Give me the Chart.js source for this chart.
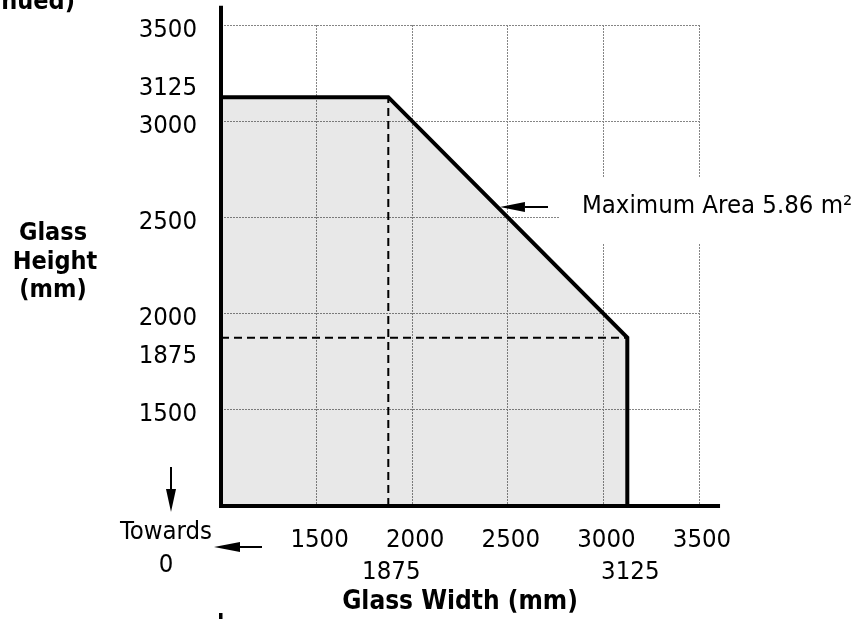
<!DOCTYPE html>
<html>
<head>
<meta charset="utf-8">
<style>
html,body{margin:0;padding:0;background:#fff;}
#wrap{width:856px;height:619px;position:relative;overflow:hidden;}
</style>
<script src="https://cdn.jsdelivr.net/npm/chart.js@4.4.1/dist/chart.umd.min.js"></script>
</head>
<body>
<div id="wrap"><canvas id="c" width="856" height="619"></canvas></div>
<script>
// ---- data ----
const boundaryWidth  = [1000, 1875, 3125, 3125];
const boundaryHeight = [3125, 3125, 1875, 1000];
const guideHWidth  = [1000, 3125];
const guideHHeight = [1875, 1875];
const guideVWidth  = [1875, 1875];
const guideVHeight = [1000, 3125];
const xTickValues = [1500, 1875, 2000, 2500, 3000, 3125, 3500];
const xSecondRowTicks = [1875, 3125];
const yTickValues = [1500, 1875, 2000, 2500, 3000, 3125, 3500];
const yUpperRowTicks = [3125];
const yLowerRowTicks = [1875];
const gridValues = [1500, 2000, 2500, 3000, 3500];
const axisMin = 1000, axisMax = 3500;
const axisEndX = 3610, axisEndY = 3600;
const areaLabel = 'Maximum Area 5.86 m\u00B2';
const xTitle = 'Glass Width (mm)';
const yTitleLines = ['Glass', 'Height', '(mm)'];
const towardsLines = ['Towards', '0'];
const headerText = '(continued)';

const FAM = "'DejaVu Sans Condensed', 'DejaVu Sans', sans-serif";
const toPts = (xs, ys) => xs.map((v, i) => ({x: v, y: ys[i]}));
const gridColor = (c) => (c.tick && gridValues.includes(c.tick.value)) ? '#858585' : 'rgba(0,0,0,0)';

function arrow(ctx, x1, y1, x2, y2, headLen, headHalf) {
  const ang = Math.atan2(y2 - y1, x2 - x1);
  const bx = x2 - Math.cos(ang) * headLen, by = y2 - Math.sin(ang) * headLen;
  ctx.beginPath(); ctx.moveTo(x1, y1); ctx.lineTo(bx, by); ctx.stroke();
  ctx.beginPath();
  ctx.moveTo(x2, y2);
  ctx.lineTo(bx + Math.sin(ang) * headHalf, by - Math.cos(ang) * headHalf);
  ctx.lineTo(bx - Math.sin(ang) * headHalf, by + Math.cos(ang) * headHalf);
  ctx.closePath(); ctx.fill();
}

function noPad(s) { s.paddingTop = 0; s.paddingBottom = 0; s.paddingLeft = 0; s.paddingRight = 0; }

const extras = {
  id: 'extras',
  afterDraw(chart) {
    const {ctx, scales: {x, y}} = chart;
    ctx.save();
    ctx.fillStyle = '#000'; ctx.strokeStyle = '#000';
    // axis lines
    const x0 = x.getPixelForValue(axisMin), y0 = y.getPixelForValue(axisMin);
    ctx.lineWidth = 4; ctx.lineCap = 'butt';
    ctx.beginPath();
    ctx.moveTo(x0, y.getPixelForValue(axisEndY)); ctx.lineTo(x0, y0 + 2);
    ctx.moveTo(x0 - 2, y0); ctx.lineTo(x.getPixelForValue(axisEndX), y0);
    ctx.stroke();
    // label box over the grid
    ctx.fillStyle = '#fff';
    ctx.fillRect(560, 178, 300, 65);
    ctx.fillStyle = '#000';
    ctx.font = `25.5px ${FAM}`;
    ctx.textBaseline = 'middle'; ctx.textAlign = 'left';
    ctx.fillText(areaLabel, 582, 206);
    // arrow to the sloped boundary
    const p1x = x.getPixelForValue(boundaryWidth[1]), p1y = y.getPixelForValue(boundaryHeight[1]);
    const p2x = x.getPixelForValue(boundaryWidth[2]), p2y = y.getPixelForValue(boundaryHeight[2]);
    const ay = 207;
    const tipX = p1x + (p2x - p1x) * (ay - p1y) / (p2y - p1y) + 2.5;
    ctx.lineWidth = 2;
    arrow(ctx, 548, ay, tipX, ay, 25, 5);
    // Towards 0
    ctx.textAlign = 'center';
    ctx.fillText(towardsLines[0], 166, 532);
    ctx.fillText(towardsLines[1], 166, 565);
    arrow(ctx, 171, 467, 171, 512, 23, 5);
    arrow(ctx, 262, 547, 214, 547, 26, 5);
    // small bottom mark
    ctx.fillRect(219, 613, 3.5, 6);
    // y title (horizontal, three lines)
    ctx.font = `bold 25px ${FAM}`;
    ctx.fillText(yTitleLines[0], 53, 233);
    ctx.fillText(yTitleLines[1], 55, 262);
    ctx.fillText(yTitleLines[2], 53, 290);
    // clipped header
    ctx.textAlign = 'right'; ctx.textBaseline = 'alphabetic';
    ctx.fillText(headerText, 75, 9);
    ctx.restore();
  }
};

new Chart(document.getElementById('c').getContext('2d'), {
  type: 'line',
  data: {
    datasets: [
      {
        data: toPts(boundaryWidth, boundaryHeight),
        borderColor: '#000', borderWidth: 4, borderJoinStyle: 'miter',
        backgroundColor: 'rgba(0,0,0,0.09)', fill: 'start',
        pointRadius: 0, tension: 0, order: 0
      },
      {
        data: toPts(guideHWidth, guideHHeight),
        borderColor: '#000', borderWidth: 2, borderDash: [8, 5],
        fill: false, pointRadius: 0, order: 1
      },
      {
        data: toPts(guideVWidth, guideVHeight),
        borderColor: '#000', borderWidth: 2, borderDash: [8, 5],
        fill: false, pointRadius: 0, order: 2
      }
    ]
  },
  options: {
    responsive: false, animation: false, devicePixelRatio: 1,
    layout: {padding: {left: 0, top: 25, right: 157, bottom: 0}},
    plugins: {legend: {display: false}, tooltip: {enabled: false}},
    scales: {
      x: {
        type: 'linear', min: axisMin, max: axisMax,
        afterBuildTicks: s => { s.ticks = xTickValues.map(v => ({value: v})); },
        afterFit: s => { s.height = 113; noPad(s); },
        grid: {color: gridColor, lineWidth: 1, drawTicks: false},
        border: {display: false, dash: [2, 1]},
        ticks: {
          autoSkip: false, maxRotation: 0, minRotation: 0,
          padding: 18, labelOffset: 3, color: '#000',
          font: {family: FAM, size: 25.5, lineHeight: 32 / 25.5},
          callback: v => xSecondRowTicks.includes(v) ? ['', String(v)] : String(v)
        },
        title: {display: true, text: xTitle, color: '#000',
          font: {family: FAM, size: 26, weight: 'bold', lineHeight: 1.2},
          padding: {top: 0, bottom: 1}}
      },
      y: {
        type: 'linear', min: axisMin, max: axisMax,
        afterBuildTicks: s => { s.ticks = yTickValues.map(v => ({value: v})); },
        afterFit: s => { s.width = 221; noPad(s); },
        grid: {color: gridColor, lineWidth: 1, drawTicks: false},
        border: {display: false, dash: [2, 1]},
        ticks: {
          autoSkip: false, padding: 24, labelOffset: 5, color: '#000',
          font: {family: FAM, size: 25.5, lineHeight: 1.1},
          callback: v => yUpperRowTicks.includes(v) ? [String(v), ''] :
                         (yLowerRowTicks.includes(v) ? ['', String(v)] : String(v))
        }
      }
    }
  },
  plugins: [extras]
});
</script>
</body>
</html>
